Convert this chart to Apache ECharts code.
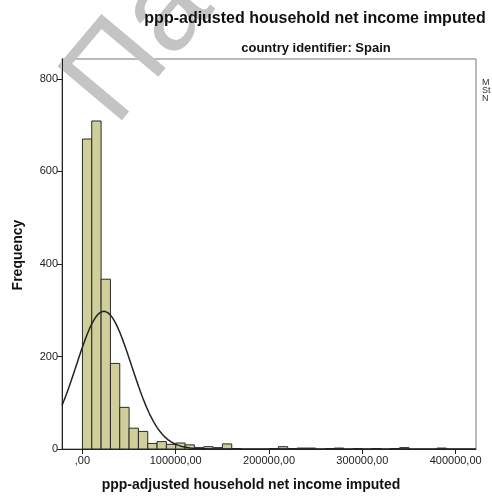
<!DOCTYPE html>
<html>
<head>
<meta charset="utf-8">
<script src="https://cdn.jsdelivr.net/npm/echarts@6/dist/echarts.min.js"></script>
<style>html,body{margin:0;padding:0;background:#fff}#c{width:492px;height:497px}</style>
</head>
<body>
<div id="c"></div>
<script>
// Histogram bins: lower edge of first bin and bin width
const binStart = 0;
const binWidth = 10000;
// Frequencies per bin (0-10000, 10000-20000, ...)
const counts = [670, 709, 367, 185, 90, 45, 38, 12, 16, 10,
                13, 9, 3, 5, 3, 11, 1, 0, 0, 0,
                1, 5, 1, 2, 2, 0, 1, 2, 0, 1,
                0, 1, 0, 1, 3, 0, 0, 0, 2, 0];
// Normal-curve statistics (mean, std. dev., N)
const normalMean = 23000;
const normalSd = 29600;
const normalN = 2209;
// Tick labels
const xTicks = [0, 100000, 200000, 300000, 400000];
const yTicks = [0, 200, 400, 600, 800];
const titleText = 'ppp-adjusted household net income imputed';
const subtitleText = 'country identifier: Spain';
const xName = 'ppp-adjusted household net income imputed';
const yName = 'Frequency';

const xMin = -21900, xMax = 421800, yMax = 843;

const barData = [];
counts.forEach((c, i) => {
  if (c > 0) barData.push([binStart + i * binWidth, binStart + (i + 1) * binWidth, c]);
});
const curve = [];
for (let x = xMin; x <= xMax; x += 500) {
  const z = (x - normalMean) / normalSd;
  curve.push([x, normalN * binWidth / (normalSd * Math.sqrt(2 * Math.PI)) * Math.exp(-0.5 * z * z)]);
}

const font = 'Liberation Sans';
const chart = echarts.init(document.getElementById('c'), null, {renderer: 'canvas'});
chart.setOption({
  animation: false,
  backgroundColor: '#fff',
  grid: {left: 62, top: 59, width: 414, height: 390, show: true, borderColor: '#777', borderWidth: 1, backgroundColor: 'transparent'},
  xAxis: {
    type: 'value', min: xMin, max: xMax,
    axisLine: {show: true, onZero: false, lineStyle: {color: '#222', width: 1}},
    axisTick: {show: true, customValues: xTicks, length: 5, inside: false, lineStyle: {color: '#222'}},
    axisLabel: {customValues: xTicks, color: '#222', fontFamily: font, fontSize: 11, margin: 6,
      formatter: v => (v === 0 ? ',00' : v + ',00')},
    splitLine: {show: false}
  },
  yAxis: {
    type: 'value', min: 0, max: yMax,
    axisLine: {show: true, onZero: false, lineStyle: {color: '#222', width: 1}},
    axisTick: {show: true, customValues: yTicks, length: 5, lineStyle: {color: '#222'}},
    axisLabel: {customValues: yTicks, color: '#222', fontFamily: font, fontSize: 11, margin: 4},
    splitLine: {show: false}
  },
  series: [
    {
      type: 'custom',
      data: barData,
      encode: {x: [0, 1], y: 2},
      renderItem: function (params, api) {
        const p0 = api.coord([api.value(0), api.value(2)]);
        const p1 = api.coord([api.value(1), 0]);
        return {
          type: 'rect',
          shape: {x: p0[0], y: p0[1], width: p1[0] - p0[0], height: p1[1] - p0[1]},
          style: {fill: '#d0cf9b', stroke: '#2a2a2a', lineWidth: 1}
        };
      },
      z: 2
    },
    {
      type: 'line', data: curve, showSymbol: false, smooth: false,
      lineStyle: {color: '#222', width: 1.5}, z: 3, silent: true
    }
  ],
  graphic: [
    {type: 'text', x: 43, y: 67, rotation: 50 * Math.PI / 180, z: 0, silent: true,
      style: {text: 'Па', font: '122px ' + font, fill: '#c4c4c4', align: 'left', verticalAlign: 'top'}},
    {type: 'text', x: 315, y: 19, z: 10, style: {text: titleText, font: 'bold 16px ' + font, fill: '#111', align: 'center', verticalAlign: 'middle'}},
    {type: 'text', x: 316, y: 48, z: 10, style: {text: subtitleText, font: 'bold 13px ' + font, fill: '#111', align: 'center', verticalAlign: 'middle'}},
    {type: 'text', x: 251, y: 485, z: 10, style: {text: xName, font: 'bold 14px ' + font, fill: '#111', align: 'center', verticalAlign: 'middle'}},
    {type: 'text', x: 18, y: 255, rotation: Math.PI / 2, z: 10, style: {text: yName, font: 'bold 14px ' + font, fill: '#111', align: 'center', verticalAlign: 'middle'}},
    {type: 'text', x: 482, y: 83, z: 10, style: {text: 'M', font: '9px ' + font, fill: '#333', align: 'left', verticalAlign: 'middle'}},
    {type: 'text', x: 482, y: 91, z: 10, style: {text: 'St', font: '9px ' + font, fill: '#333', align: 'left', verticalAlign: 'middle'}},
    {type: 'text', x: 482, y: 99, z: 10, style: {text: 'N', font: '9px ' + font, fill: '#333', align: 'left', verticalAlign: 'middle'}}
  ]
});
</script>
</body>
</html>
